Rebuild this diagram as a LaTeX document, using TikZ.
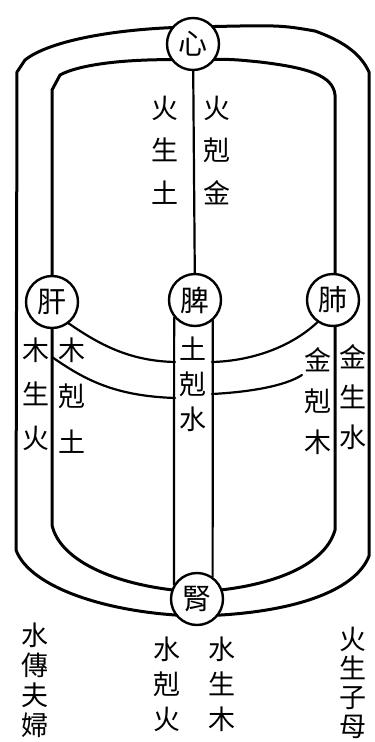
\documentclass[tikz,border=0pt]{standalone}
\usepackage{fontspec}
\newfontfamily\cjk{Noto Sans CJK TC}
\begin{document}
\begin{tikzpicture}[x=1pt,y=-1pt,
  organ/.style={circle,draw,line width=2.4pt,fill=white,minimum size=52pt,inner sep=0pt,font=\cjk\fontsize{29}{29}\selectfont},
  loopline/.style={line width=3pt,line join=round,line cap=round},
  link/.style={line width=2.2pt,line cap=round},
  vlab/.style={align=center,inner sep=0pt}]
\useasboundingbox[fill=white] (0,0) rectangle (375,742);
% outer loop
\draw[loopline] (193,27) .. controls (120,28) and (50,40) .. (25,60) -- (17,72)
  -- (16,550) .. controls (30,588) and (110,614) .. (197,616)
  .. controls (290,614) and (355,592) .. (369,556) -- (369,72)
  .. controls (360,52) and (340,40) .. (315,31) .. controls (280,25) .. (193,27) -- cycle;
% inner loop
\draw[loopline] (193,60) .. controls (130,58) and (80,64) .. (60,75) -- (52,90)
  -- (52,525) .. controls (60,562) and (120,588) .. (197,592)
  .. controls (270,588) and (325,566) .. (335,530) -- (335,95)
  .. controls (333,76) and (310,68) .. (260,62) .. controls (230,59) .. (193,60) -- cycle;
% organs
\node[organ] (heart)  at (193,44)  {心};
\node[organ] (liver)  at (52,302)  {肝};
\node[organ] (spleen) at (195,300) {脾};
\node[organ] (lung)   at (333,300) {肺};
\node[organ] (kidney) at (197,599) {腎};
% connectors
\draw[link] (heart) -- (spleen);
\draw[link] (spleen.220) -- (kidney.148);
\draw[link] (spleen.-49) -- (kidney.55);
\coordinate (sl1) at (175,362);
\coordinate (sl2) at (175,398);
\coordinate (sr1) at (212,362);
\coordinate (sr2) at (212,394);
\coordinate (ll) at (52,357);
\coordinate (rf) at (302,375);
\draw[link] (liver.-52) .. controls (100,345) and (130,361) .. (sl1);
\draw[link] (ll) .. controls (85,380) and (115,396) .. (sl2);
\draw[link] (lung.235) .. controls (290,348) and (250,361) .. (sr1);
\draw[link] (rf) .. controls (285,386) and (250,392) .. (sr2);
% labels
\node[vlab,font=\cjk\fontsize{27}{42.5}\selectfont] (t1) at (165,150) {火\\生\\土};
\node[vlab,font=\cjk\fontsize{27}{42.5}\selectfont] (t2) at (217,150) {火\\剋\\金};
\node[vlab,font=\cjk\fontsize{27}{44}\selectfont] (l1) at (36,394) {木\\生\\火};
\node[vlab,font=\cjk\fontsize{27}{46}\selectfont] (l2) at (72,396) {木\\剋\\土};
\node[vlab,font=\cjk\fontsize{27}{35}\selectfont] (m1) at (193,384) {土\\剋\\水};
\node[vlab,font=\cjk\fontsize{27}{41}\selectfont] (r1) at (318,401) {金\\剋\\木};
\node[vlab,font=\cjk\fontsize{27}{40}\selectfont] (r2) at (353,397) {金\\生\\水};
\node[vlab,font=\cjk\fontsize{27}{30}\selectfont] (b1) at (35,680) {水\\傳\\夫\\婦};
\node[vlab,font=\cjk\fontsize{27}{35}\selectfont] (b2) at (167,684) {水\\剋\\火};
\node[vlab,font=\cjk\fontsize{27}{35}\selectfont] (b3) at (222,684) {水\\生\\木};
\node[vlab,font=\cjk\fontsize{27}{29}\selectfont] (b4) at (353,683) {火\\生\\子\\母};
\end{tikzpicture}
\end{document}
